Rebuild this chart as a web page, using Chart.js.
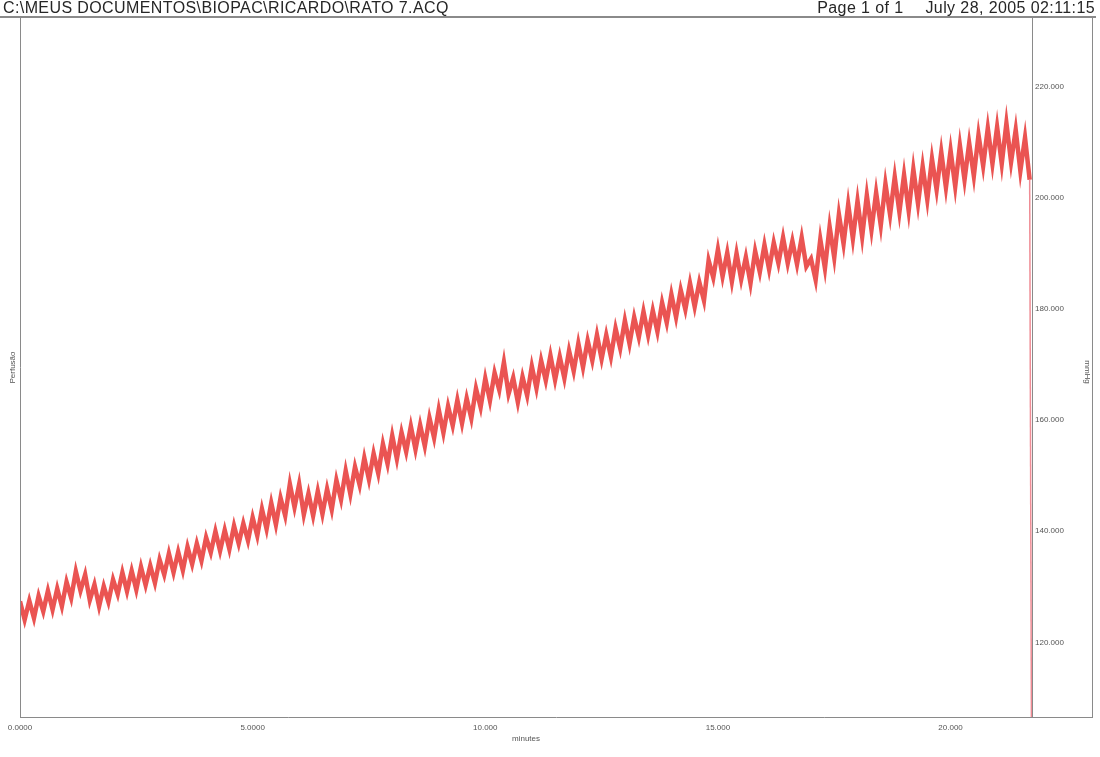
<!DOCTYPE html>
<html>
<head>
<meta charset="utf-8">
<script src="https://cdn.jsdelivr.net/npm/chart.js@4/dist/chart.umd.min.js"></script>
<style>
  html, body { margin:0; padding:0; background:#fff; }
  #wrap { position:relative; width:1100px; height:757px; overflow:hidden; }
  #c { position:absolute; left:0; top:0; }
  .hdr { position:absolute; top:-1px; font-family:"Liberation Sans", Arial, sans-serif; font-size:16px; line-height:18px; color:#262626; white-space:nowrap; letter-spacing:0.4px; }
  #h1 { left:3px; }
  #h2 { right:5px; }
  #h2 span { margin-left:22px; }
  #rule { position:absolute; left:0; top:16px; width:1096px; height:2px; background:#8a8a8a; }
</style>
</head>
<body>
<div id="wrap">
  <canvas id="c" width="1100" height="757"></canvas>
  <div class="hdr" id="h1">C:\MEUS DOCUMENTOS\BIOPAC\RICARDO\RATO 7.ACQ</div>
  <div class="hdr" id="h2">Page 1 of 1<span>July 28, 2005 02:11:15</span></div>
  <div id="rule"></div>
</div>
<script>
// ---- data ----
const minutes = [
  0.0,0.1,0.2,0.3,0.4,0.5,0.6,0.7,0.8,0.9,
  1.0,1.1,1.2,1.3,1.4,1.5,1.6,1.7,1.8,1.9,
  2.0,2.1,2.2,2.3,2.4,2.5,2.6,2.7,2.8,2.9,
  3.0,3.1,3.2,3.3,3.4,3.5,3.6,3.7,3.8,3.9,
  4.0,4.1,4.2,4.3,4.4,4.5,4.6,4.7,4.8,4.9,
  5.0,5.1,5.2,5.3,5.4,5.5,5.6,5.7,5.8,5.9,
  6.0,6.1,6.2,6.3,6.4,6.5,6.6,6.7,6.8,6.9,
  7.0,7.1,7.2,7.3,7.4,7.5,7.6,7.7,7.8,7.9,
  8.0,8.1,8.2,8.3,8.4,8.5,8.6,8.7,8.8,8.9,
  9.0,9.1,9.2,9.3,9.4,9.5,9.6,9.7,9.8,9.9,
  10.0,10.1,10.2,10.3,10.4,10.5,10.6,10.7,10.8,10.9,
  11.0,11.1,11.2,11.3,11.4,11.5,11.6,11.7,11.8,11.9,
  12.0,12.1,12.2,12.3,12.4,12.5,12.6,12.7,12.8,12.9,
  13.0,13.1,13.2,13.3,13.4,13.5,13.6,13.7,13.8,13.9,
  14.0,14.1,14.2,14.3,14.4,14.5,14.6,14.7,14.8,14.9,
  15.0,15.1,15.2,15.3,15.4,15.5,15.6,15.7,15.8,15.9,
  16.0,16.1,16.2,16.3,16.4,16.5,16.6,16.7,16.8,16.9,
  17.0,17.1,17.2,17.3,17.4,17.5,17.6,17.7,17.8,17.9,
  18.0,18.1,18.2,18.3,18.4,18.5,18.6,18.7,18.8,18.9,
  19.0,19.1,19.2,19.3,19.4,19.5,19.6,19.7,19.8,19.9,
  20.0,20.1,20.2,20.3,20.4,20.5,20.6,20.7,20.8,20.9,
  21.0,21.1,21.2,21.3,21.4,21.5,21.6,21.7,
  21.74
];
const pressure = [
  127.4,124.1,127.5,124.4,128.4,125.6,129.3,125.9,129.7,126.5,
  130.9,128.0,132.8,129.3,132.2,127.6,130.4,126.5,130.1,127.3,
  131.3,128.7,132.6,129.2,132.9,129.5,133.6,130.3,133.8,130.7,
  134.9,132.2,136.0,132.6,136.3,133.0,137.2,134.1,137.8,134.7,
  138.9,136.2,140.0,136.5,140.2,136.8,141.0,137.8,141.4,138.3,
  142.5,139.2,144.0,140.4,145.1,141.2,146.0,142.8,148.5,144.3,
  148.5,143.0,146.8,142.8,147.2,143.1,147.6,143.9,149.2,145.7,
  150.9,146.7,151.6,148.3,153.2,149.3,154.0,150.4,155.7,152.1,
  157.2,153.0,157.8,154.3,158.9,154.7,159.1,155.3,160.4,156.8,
  161.9,157.7,162.5,159.0,163.6,159.4,163.9,160.3,165.7,162.3,
  167.5,163.5,168.5,165.4,170.4,164.7,167.6,163.2,167.8,164.4,
  169.7,165.7,170.7,167.1,171.6,167.2,171.4,167.5,172.5,168.8,
  173.8,169.5,174.3,170.7,175.3,171.0,175.3,171.4,176.5,172.9,
  177.9,173.7,178.5,174.9,179.5,175.3,179.7,175.9,181.1,177.5,
  182.6,178.5,183.4,179.9,184.6,180.4,184.8,181.5,188.7,185.6,
  190.7,185.8,190.1,184.9,190.0,185.3,189.3,184.6,190.4,186.6,
  191.5,187.1,191.9,188.2,192.8,188.2,192.2,188.0,192.8,187.6,
  189.0,185.2,192.5,187.3,194.8,189.2,197.0,191.7,198.8,192.6,
  199.4,193.0,200.4,194.2,200.9,195.0,202.5,196.9,203.7,197.4,
  204.1,197.6,205.1,198.9,205.6,199.6,207.0,201.4,208.2,201.8,
  208.5,202.0,209.4,203.2,209.8,203.9,211.3,205.7,212.5,206.1,
  212.7,206.1,213.4,206.4,212.2,204.8,210.8,203.2,
  100.0
];
const xTickValues = [0, 5, 10, 15, 20];
const xTickLabels = ["0.0000", "5.0000", "10.000", "15.000", "20.000"];
const yTickValues = [120, 140, 160, 180, 200, 220];
const yTickLabels = ["120.000", "140.000", "160.000", "180.000", "200.000", "220.000"];
const xTitle = "minutes";
const yTitleRight = "mmHg";
const yTitleLeft = "Perfusão";

const points = minutes.map((m, i) => ({ x: m, y: pressure[i] }));
const lastIndex = points.length - 1;
const FONT = '"Liberation Sans", Arial, sans-serif';

const framePlugin = {
  id: 'frame',
  afterDraw(chart) {
    const ctx = chart.ctx;
    const a = chart.chartArea;
    ctx.save();
    ctx.strokeStyle = '#8a8a8a';
    ctx.lineWidth = 1;
    ctx.beginPath();
    ctx.moveTo(a.left + 0.5, 18); ctx.lineTo(a.left + 0.5, a.bottom);
    ctx.moveTo(a.left, a.bottom + 0.5); ctx.lineTo(1093, a.bottom + 0.5);
    ctx.moveTo(1092.5, 18); ctx.lineTo(1092.5, a.bottom + 1);
    ctx.stroke();
    ctx.fillStyle = '#555';
    ctx.font = '8px ' + FONT;
    ctx.textAlign = 'center';
    ctx.textBaseline = 'middle';
    ctx.fillText(xTitle, (a.left + a.right) / 2, 739);
    ctx.save();
    ctx.translate(13, (a.top + a.bottom) / 2);
    ctx.rotate(-Math.PI / 2);
    ctx.fillText(yTitleLeft, 0, 0);
    ctx.restore();
    ctx.save();
    ctx.translate(1087, 372);
    ctx.rotate(Math.PI / 2);
    ctx.fillText(yTitleRight, 0, 0);
    ctx.restore();
    ctx.restore();
  }
};

new Chart(document.getElementById('c'), {
  type: 'line',
  data: {
    datasets: [{
      data: points,
      borderColor: 'rgb(234,84,82)',
      borderWidth: 4.5,
      borderJoinStyle: 'miter',
      pointRadius: 0,
      tension: 0,
      fill: false,
      segment: {
        borderColor: (c) => c.p1DataIndex === lastIndex ? 'rgba(236,120,130,0.85)' : undefined,
        borderWidth: (c) => c.p1DataIndex === lastIndex ? 1.5 : undefined
      }
    }]
  },
  options: {
    responsive: false,
    animation: false,
    devicePixelRatio: 1,
    layout: { padding: { top: 18, left: 20, right: 0, bottom: 0 } },
    plugins: { legend: { display: false }, tooltip: { enabled: false } },
    scales: {
      x: {
        type: 'linear',
        min: 0,
        max: 21.75,
        grid: { display: false, drawTicks: false },
        border: { display: false },
        afterBuildTicks(scale) { scale.ticks = xTickValues.map(v => ({ value: v })); },
        afterFit(scale) { scale.height = 40; },
        ticks: {
          maxRotation: 0,
          autoSkip: false,
          padding: 6,
          color: '#555',
          font: { family: FONT, size: 8 },
          callback: (v) => { const i = xTickValues.indexOf(v); return i >= 0 ? xTickLabels[i] : ''; }
        }
      },
      y: {
        type: 'linear',
        position: 'right',
        min: 106.6,
        max: 232.3,
        grid: { display: false, drawTicks: false },
        border: { display: true, color: '#8a8a8a', width: 1 },
        afterBuildTicks(scale) { scale.ticks = yTickValues.map(v => ({ value: v })); },
        afterFit(scale) { scale.width = 68; },
        ticks: {
          padding: 3,
          autoSkip: false,
          color: '#555',
          font: { family: FONT, size: 8 },
          callback: (v) => { const i = yTickValues.indexOf(v); return i >= 0 ? yTickLabels[i] : ''; }
        }
      }
    }
  },
  plugins: [framePlugin]
});
</script>
</body>
</html>
